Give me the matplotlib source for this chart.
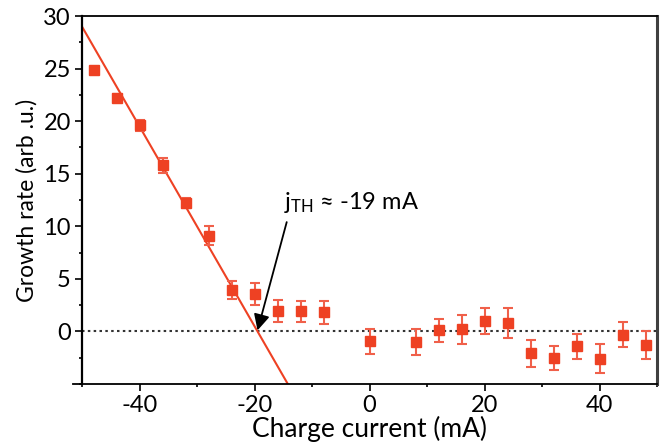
import matplotlib
matplotlib.use('Agg')
import matplotlib.pyplot as plt
from matplotlib.ticker import MultipleLocator
import numpy as np

plt.rcParams['font.family'] = ['Lato', 'DejaVu Sans']
plt.rcParams['mathtext.default'] = 'regular'
plt.rcParams['axes.unicode_minus'] = False

# measured growth rate vs charge current
current = [-48, -44, -40, -36, -32, -28, -24, -20, -16, -12, -8, 0,
           8, 12, 16, 20, 24, 28, 32, 36, 40, 44, 48]
growth = [24.9, 22.2, 19.6, 15.8, 12.2, 9.1, 3.9, 3.6, 1.9, 1.9, 1.8, -0.95,
          -1.0, 0.1, 0.2, 1.0, 0.8, -2.1, -2.5, -1.4, -2.6, -0.3, -1.3]
growth_err = [0.25, 0.4, 0.5, 0.7, 0.5, 0.9, 0.85, 1.05, 1.05, 1.0, 1.05, 1.2,
              1.2, 1.1, 1.4, 1.2, 1.4, 1.25, 1.15, 1.2, 1.4, 1.15, 1.3]

# linear fit of the steep part
fit_slope = -0.95
fit_icpt = -18.5
j_th = -fit_icpt / fit_slope

red = '#EE4123'

fig = plt.figure(figsize=(6.64, 4.47), dpi=100)
ax = fig.add_axes([0.1235, 0.141, 0.866, 0.823])

xf = np.array([-50, 50])
ax.plot(xf, fit_slope * xf + fit_icpt, color=red, lw=1.5, zorder=2)
ax.axhline(0, color='#333333', lw=1.5, ls=(0, (1.2, 1.6)), zorder=1)
ax.errorbar(current, growth, yerr=growth_err, fmt='s', color=red, ms=7,
            ecolor='#F0604A', elinewidth=1.5, capsize=3.8, capthick=1.5, zorder=3)

ax.text(-14.8, 12.3, r'j$_{TH}$ ≈ -19 mA', fontsize=17, ha='left', va='center')
ax.annotate('', xy=(j_th, 0.1), xytext=(-14.4, 10.4),
            arrowprops=dict(arrowstyle='-|>', color='black', lw=1.3,
                            mutation_scale=24, shrinkA=0, shrinkB=0))

ax.set_xlim(-50, 50)
ax.set_ylim(-5, 30)
ax.xaxis.set_major_locator(MultipleLocator(20))
ax.xaxis.set_minor_locator(MultipleLocator(10))
ax.yaxis.set_major_locator(MultipleLocator(5))
ax.yaxis.set_minor_locator(MultipleLocator(2.5))
ax.set_yticks([0, 5, 10, 15, 20, 25, 30])
ax.tick_params(which='major', direction='out', length=5, width=1.2, labelsize=17, pad=3)
ax.tick_params(which='minor', direction='out', length=2.5, width=1.2)

ax.spines['left'].set_linewidth(1.6)
ax.spines['bottom'].set_linewidth(1.3)
ax.spines['top'].set_linewidth(1.3)
ax.spines['right'].set_linewidth(2.2)
ax.spines['right'].set_color('#404040')
ax.spines['bottom'].set_bounds(-51.6, 50)

ax.set_xlabel('Charge current (mA)', fontsize=19, labelpad=0)
ax.set_ylabel('Growth rate (arb .u.)', fontsize=16.5, labelpad=4)

fig.savefig('out.png', dpi=100)
